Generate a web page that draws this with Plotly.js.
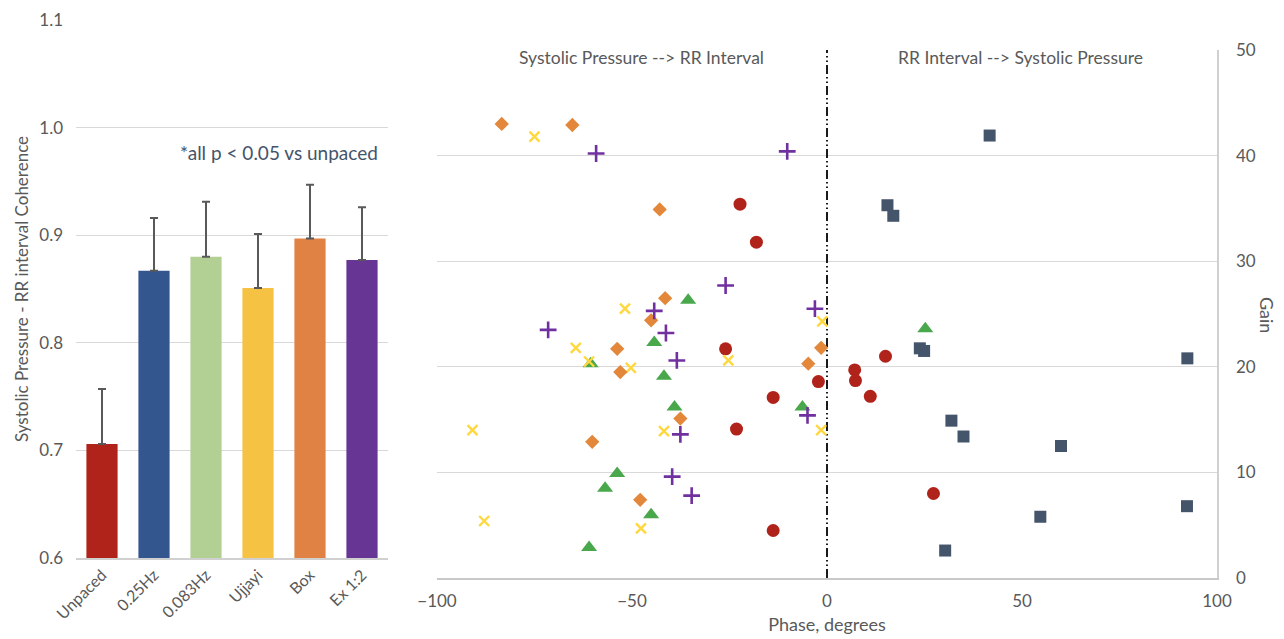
<!DOCTYPE html>
<html>
<head>
<meta charset="utf-8">
<script src="https://cdn.plot.ly/plotly-3.0.1.min.js"></script>
<style>
html,body{margin:0;padding:0;background:#fff;}
#chart{width:1284px;height:639px;}
</style>
</head>
<body>
<div id="chart"></div>
<script>
// ---- Bar chart data ----
const categories = ['Unpaced', '0.25Hz', '0.083Hz', 'Ujjayi', 'Box', 'Ex 1:2'];
const coherence = [0.706, 0.867, 0.880, 0.851, 0.897, 0.877];
const coherenceErr = [0.051, 0.049, 0.051, 0.050, 0.050, 0.049];
const barColors = ['#B0231B', '#34568F', '#B3D094', '#F5C243', '#E08244', '#673695'];
const coherenceTicks = [0.6, 0.7, 0.8, 0.9, 1.0, 1.1];

// ---- Scatter data (phase in degrees, gain) ----
const unpacedPhase = [-22.3, -18.1, -26.0, -2.2, -13.8, -23.2, -13.8, 7.1, 7.3, 15.0, 11.1, 27.3];
const unpacedGain  = [35.4, 31.8, 21.7, 18.6, 17.1, 14.1, 4.5, 19.7, 18.7, 21.0, 17.2, 8.0];

const hz025Phase = [41.7, 15.5, 17.0, 23.8, 24.9, 92.4, 31.9, 35.0, 60.0, 92.3, 54.7, 30.3];
const hz025Gain  = [41.9, 35.3, 34.3, 21.75, 21.5, 20.8, 14.9, 13.4, 12.5, 6.8, 5.8, 2.6];

const hz0083Phase = [-35.6, -44.3, -60.6, -41.8, -39.1, -6.3, -53.8, -56.9, -45.1, -61.0, 25.2];
const hz0083Gain  = [26.3, 22.3, 20.3, 19.1, 16.2, 16.2, 9.9, 8.5, 6.0, 2.9, 23.6];

const ujjayiPhase = [-75.0, -51.8, -1.2, -64.4, -61.0, -25.3, -50.3, -90.9, -41.8, -1.5, -87.9, -47.7];
const ujjayiGain  = [41.8, 25.5, 24.3, 21.8, 20.5, 20.6, 19.9, 14.0, 13.9, 14.0, 5.4, 4.7];

const boxPhase = [-83.4, -65.3, -42.9, -41.5, -45.1, -53.8, -53.0, -1.5, -4.8, -37.6, -60.2, -47.9];
const boxGain  = [43.0, 42.9, 34.9, 26.5, 24.4, 21.7, 19.5, 21.8, 20.3, 15.1, 12.9, 7.4];

const exPhase = [-59.2, -10.2, -26.0, -44.3, -3.1, -71.5, -41.3, -38.5, -5.0, -37.6, -39.7, -34.7];
const exGain  = [40.2, 40.4, 27.7, 25.3, 25.5, 23.5, 23.2, 20.6, 15.4, 13.6, 9.6, 7.8];

const zeroLineX = [0, 0];
const zeroLineY = [0, 50];

const phaseTicks = [-100, -50, 0, 50, 100];
const gainTicks = [0, 10, 20, 30, 40, 50];

const FONT = 'Lato, "Open Sans", sans-serif';
const TXT = '#595959';
const GRID = '#D9D9D9';

const traces = [
  {
    type: 'bar', x: categories, y: coherence, xaxis: 'x', yaxis: 'y',
    marker: {color: barColors},
    error_y: {type: 'data', symmetric: false, array: coherenceErr,
              arrayminus: coherenceErr.map(() => 0), color: '#595959', thickness: 2, width: 4},
    hoverinfo: 'x+y', showlegend: false
  },
  {
    type: 'scatter', mode: 'lines', x: zeroLineX, y: zeroLineY, xaxis: 'x2', yaxis: 'y2',
    line: {color: '#1a1a1a', width: 2, dash: '9px,3px,1.5px,3px,1.5px,3px'},
    hoverinfo: 'skip', showlegend: false
  },
  {
    type: 'scatter', mode: 'markers', name: 'Unpaced', x: unpacedPhase, y: unpacedGain,
    xaxis: 'x2', yaxis: 'y2', showlegend: false,
    marker: {symbol: 'circle', size: 13, color: '#B0231B'}
  },
  {
    type: 'scatter', mode: 'markers', name: '0.25Hz', x: hz025Phase, y: hz025Gain,
    xaxis: 'x2', yaxis: 'y2', showlegend: false,
    marker: {symbol: 'square', size: 12, color: '#44546A'}
  },
  {
    type: 'scatter', mode: 'markers', name: '0.083Hz', x: hz0083Phase, y: hz0083Gain,
    xaxis: 'x2', yaxis: 'y2', showlegend: false,
    marker: {symbol: 'triangle-up', size: 14, color: '#4AA84C'}
  },
  {
    type: 'scatter', mode: 'markers', name: 'Ujjayi', x: ujjayiPhase, y: ujjayiGain,
    xaxis: 'x2', yaxis: 'y2', showlegend: false,
    marker: {symbol: 'x-thin-open', size: 10, color: '#FFD83F', line: {color: '#FFD83F', width: 2.4}}
  },
  {
    type: 'scatter', mode: 'markers', name: 'Box', x: boxPhase, y: boxGain,
    xaxis: 'x2', yaxis: 'y2', showlegend: false,
    marker: {symbol: 'diamond', size: 11, color: '#E3873A'}
  },
  {
    type: 'scatter', mode: 'markers', name: 'Ex 1:2', x: exPhase, y: exGain,
    xaxis: 'x2', yaxis: 'y2', showlegend: false,
    marker: {symbol: 'cross-thin-open', size: 12, color: '#7030A0', line: {color: '#7030A0', width: 2.6}}
  }
];

const W = 1284, H = 639;
const layout = {
  width: W, height: H,
  margin: {l: 0, r: 0, t: 0, b: 0},
  paper_bgcolor: '#fff', plot_bgcolor: 'rgba(0,0,0,0)',
  font: {family: FONT, color: TXT, size: 17},
  bargap: 0.4,
  xaxis: {
    domain: [76 / W, 388 / W], anchor: 'y',
    tickangle: -45, tickfont: {size: 16, color: TXT},
    showline: true, linecolor: '#D0D0D0', linewidth: 1.5,
    ticks: '', showgrid: false, fixedrange: true
  },
  yaxis: {
    domain: [(H - 558) / H, (H - 20) / H], anchor: 'x',
    range: [0.6, 1.1], tickvals: coherenceTicks, tickformat: '.1f',
    tickfont: {size: 17, color: TXT}, ticklabelstandoff: 12,
    showgrid: true, gridcolor: GRID, gridwidth: 1, zeroline: false,
    showline: false, ticks: '',
    title: {text: 'Systolic Pressure - RR interval Coherence', font: {size: 17, color: TXT}, standoff: 6}
  },
  xaxis2: {
    domain: [437 / W, 1217 / W], anchor: 'y2',
    range: [-100, 100], tickvals: phaseTicks,
    tickfont: {size: 17, color: TXT}, ticklabelstandoff: 7,
    showgrid: false, zeroline: false, showline: true, linecolor: '#C8C8C8', linewidth: 1.5,
    ticks: '',
    title: {text: 'Phase, degrees', font: {size: 18, color: TXT}, standoff: 8}
  },
  yaxis2: {
    domain: [(H - 578) / H, (H - 50) / H], anchor: 'x2', side: 'right',
    range: [0, 50], tickvals: gainTicks,
    tickfont: {size: 17, color: TXT}, ticklabelstandoff: 14,
    showgrid: true, gridcolor: GRID, gridwidth: 1, zeroline: false,
    showline: true, linecolor: '#D0D0D0', linewidth: 1.5, ticks: ''
  },
  annotations: [
    {xref: 'paper', yref: 'paper', x: 279 / W, y: (H - 152) / H, xanchor: 'center', yanchor: 'middle',
     text: '*all p < 0.05 vs unpaced', showarrow: false, font: {size: 19, color: '#44546A'}},
    {xref: 'paper', yref: 'paper', x: 641 / W, y: (H - 58) / H, xanchor: 'center', yanchor: 'middle',
     text: 'Systolic Pressure --> RR Interval', showarrow: false, font: {size: 17.5, color: TXT}},
    {xref: 'paper', yref: 'paper', x: 1020 / W, y: (H - 58) / H, xanchor: 'center', yanchor: 'middle',
     text: 'RR Interval --> Systolic Pressure', showarrow: false, font: {size: 17.5, color: TXT}},
    {xref: 'paper', yref: 'paper', x: 1267 / W, y: (H - 315) / H, xanchor: 'center', yanchor: 'middle',
     text: 'Gain', textangle: 90, showarrow: false, font: {size: 18, color: TXT}}
  ]
};

Plotly.newPlot('chart', traces, layout, {displayModeBar: false, staticPlot: true});
</script>
</body>
</html>
